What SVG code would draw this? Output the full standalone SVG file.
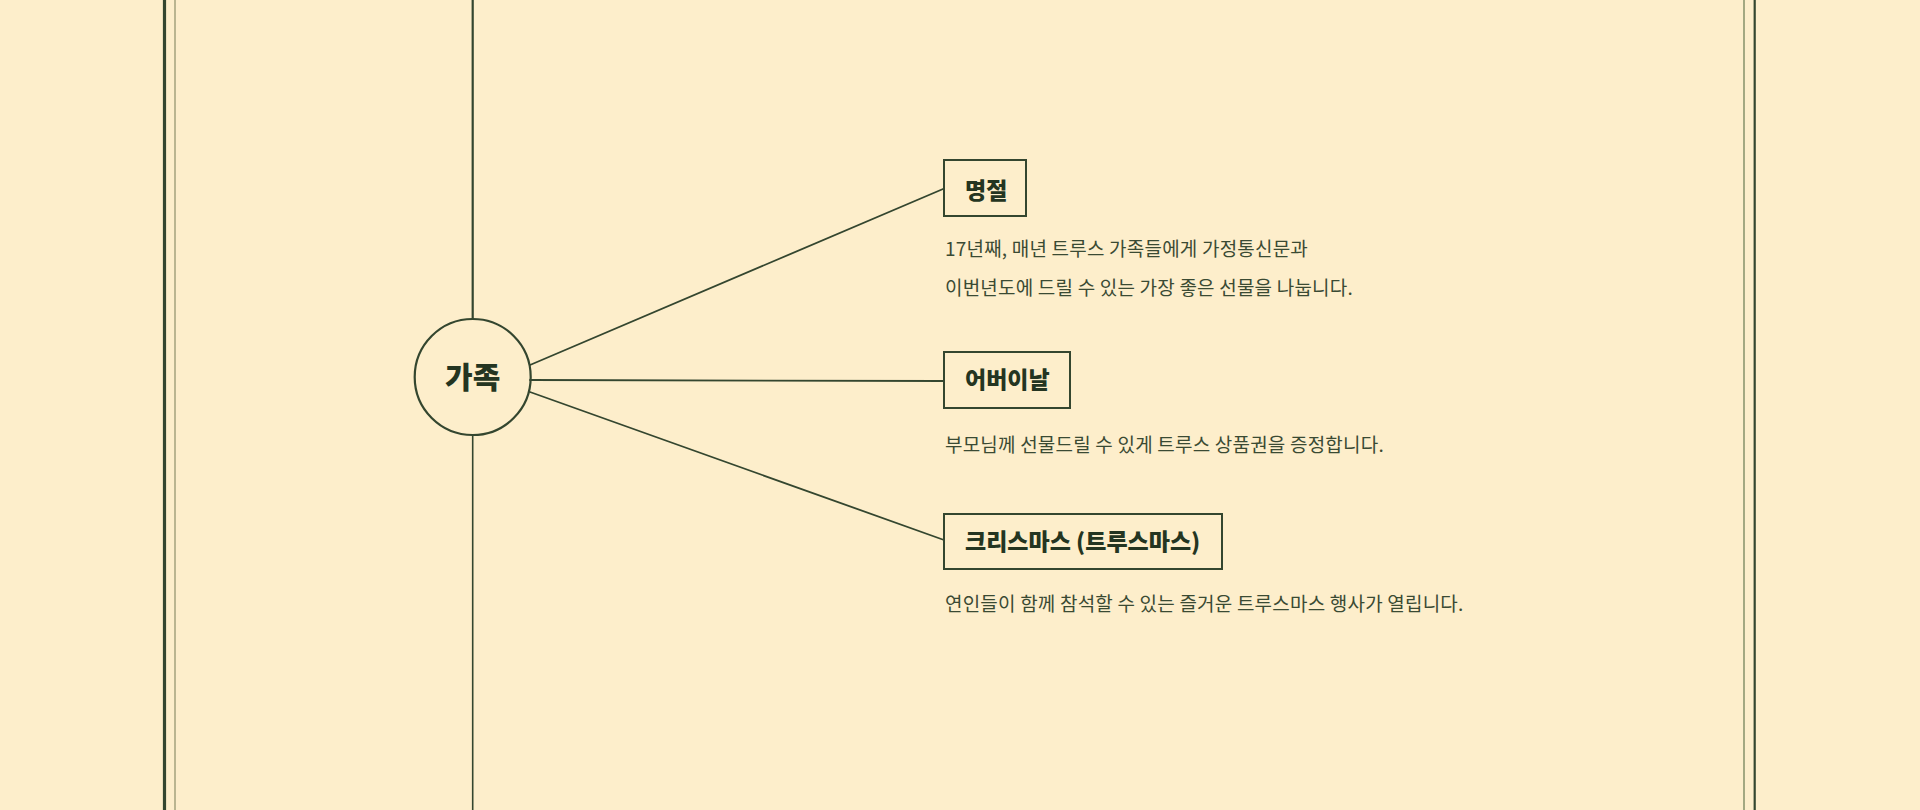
<svg xmlns="http://www.w3.org/2000/svg" width="1920" height="810" viewBox="0 0 1920 810">
<style>
.ln{stroke:#34462f;fill:none;stroke-linecap:round}
.box{fill:none;stroke:#34462f;stroke-width:2}
.t{font-family:"Noto Sans CJK KR","Noto Sans",sans-serif;font-weight:800;fill:#243521}
.d{font-family:"Noto Sans CJK KR","Noto Sans",sans-serif;font-size:19px;letter-spacing:0.2px;fill:#3a4a33}
</style>
<rect width="1920" height="810" fill="#fdeecb"/>
<g id="frame">
<line class="ln" x1="164.5" y1="0" x2="164.5" y2="810" stroke-width="3.2"/>
<line x1="175" y1="0" x2="175" y2="810" stroke="#8e8f6a" stroke-width="1.2"/>
<line x1="1744" y1="0" x2="1744" y2="810" stroke="#7d8a62" stroke-width="1.4"/>
<line class="ln" x1="1754.7" y1="0" x2="1754.7" y2="810" stroke-width="2.2"/>
</g>
<g id="connectors">
<line class="ln" x1="472.7" y1="0" x2="472.7" y2="319" stroke-width="2.2"/>
<line class="ln" x1="472.7" y1="435" x2="472.7" y2="810" stroke-width="1.6"/>
<line class="ln" x1="530" y1="365" x2="943" y2="189" stroke-width="1.8"/>
<line class="ln" x1="530" y1="380" x2="944" y2="381" stroke-width="1.8"/>
<line class="ln" x1="530" y1="392" x2="944" y2="540" stroke-width="1.8"/>
</g>
<g id="node-family">
<circle cx="472.7" cy="377" r="58" class="ln" stroke-width="2.2"/>
<text class="t" x="472.7" y="388" font-size="30" text-anchor="middle">가족</text>
</g>
<g id="node-holiday">
<rect class="box" x="944" y="160" width="82" height="56"/>
<text class="t" x="965" y="199" font-size="23">명절</text>
<text class="d" x="945" y="256">17년째, 매년 트루스 가족들에게 가정통신문과</text>
<text class="d" x="945" y="295">이번년도에 드릴 수 있는 가장 좋은 선물을 나눕니다.</text>
</g>
<g id="node-parents">
<rect class="box" x="944" y="352" width="126" height="56"/>
<text class="t" x="965" y="388" font-size="23">어버이날</text>
<text class="d" x="945" y="452">부모님께 선물드릴 수 있게 트루스 상품권을 증정합니다.</text>
</g>
<g id="node-christmas">
<rect class="box" x="944" y="514" width="278" height="55"/>
<text class="t" x="965" y="550" font-size="23">크리스마스 (트루스마스)</text>
<text class="d" x="945" y="611">연인들이 함께 참석할 수 있는 즐거운 트루스마스 행사가 열립니다.</text>
</g>
</svg>
